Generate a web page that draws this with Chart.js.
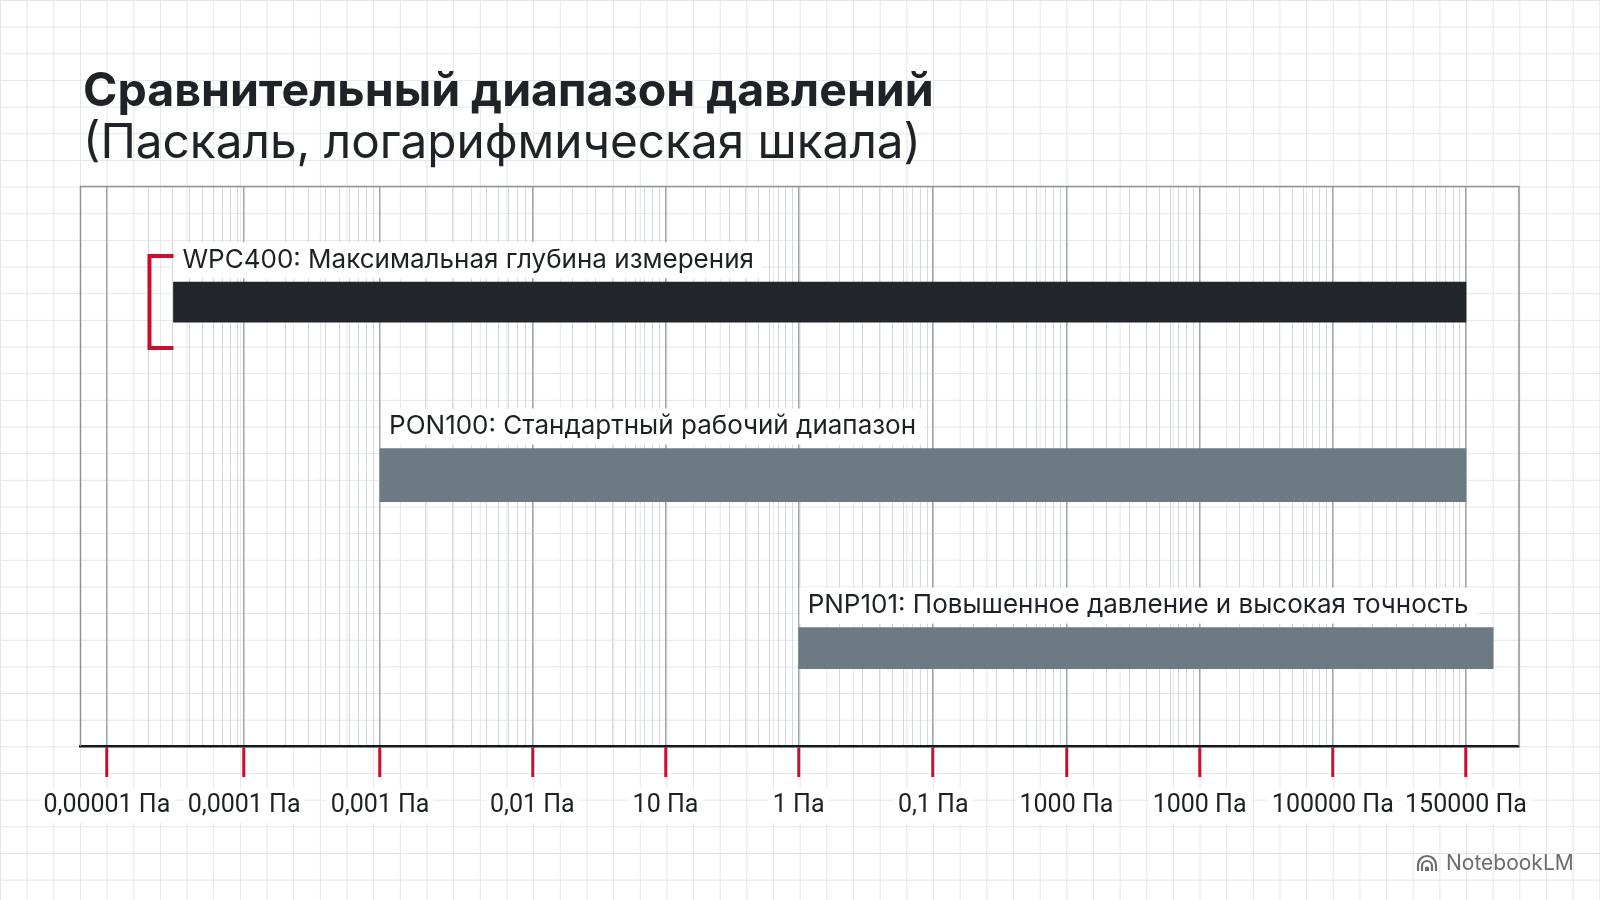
<!DOCTYPE html>
<html lang="ru">
<head>
<meta charset="utf-8">
<title>Сравнительный диапазон давлений</title>
<script src="https://cdn.jsdelivr.net/npm/chart.js@4.4.1/dist/chart.umd.min.js"></script>
<style>
  html, body { margin: 0; padding: 0; }
  body {
    width: 1600px; height: 900px; overflow: hidden; position: relative;
    background-color: #fff;
    background-image:
      linear-gradient(to right, #e4e6e9 1px, transparent 1px),
      linear-gradient(to bottom, #e4e6e9 1px, transparent 1px);
    background-size: 26.667px 26.667px;
    font-family: Inter, "Noto Sans", sans-serif;
  }
  #heading { position: absolute; left: 83px; top: 64px; color: #1f2327; }
  #heading .main { font-weight: 700; font-size: 46.5px; line-height: 50px; }
  #heading .sub { font-weight: 400; font-size: 47.7px; line-height: 54px; }
  #chart-wrap { position: absolute; left: 0; top: 0; width: 1600px; height: 900px; }
  #mark { position: absolute; left: 1416px; top: 850px; color: #6a6d70; font-size: 21px; display: flex; align-items: center; gap: 8px; }
</style>
</head>
<body>
<div id="chart-wrap"><canvas id="range-chart" width="1600" height="900"></canvas></div>
<div id="heading">
  <div class="main">Сравнительный диапазон давлений</div>
  <div class="sub">(Паскаль, логарифмическая шкала)</div>
</div>
<div id="mark">
  <svg width="22" height="18" viewBox="0 0 22 18"><g fill="none" stroke="#6a6d70" stroke-width="2.2"><path d="M2 17 V11 A9 9 0 0 1 20 11 V17"/><path d="M6 17 V12 A5 5 0 0 1 16 12 V17"/><path d="M10 17 V14 A1.5 1.5 0 0 1 12 14 V17"/></g></svg>
  <span>NotebookLM</span>
</div>
<script>
'use strict';

// ряды (сверху вниз)
const ROWS       = ['WPC400', 'PON100', 'PNP101'];
const ROW_TEXT   = [
  'WPC400: Максимальная глубина измерения',
  'PON100: Стандартный рабочий диапазон',
  'PNP101: Повышенное давление и высокая точность',
];
// границы диапазонов в единицах шкалы (позиция деления)
const RANGE_FROM = [0.49, 2.01, 5.09];
const RANGE_TO   = [10, 10, 10.2];

// деления оси X и их подписи (как на исходнике)
const TICK_POS    = [0, 1.01, 2.01, 3.13, 4.11, 5.09, 6.08, 7.06, 8.04, 9.02, 10];
const TICK_LABELS = ['0,00001 Па', '0,0001 Па', '0,001 Па', '0,01 Па', '10 Па', '1 Па',
                     '0,1 Па', '1000 Па', '1000 Па', '100000 Па', '150000 Па'];

const BAR_COLORS = ['#22262b', '#6c7a84', '#6c7a84'];
const BAR_WIDTH  = [40, 53, 41];
const RED = '#c8102e';

// промежуточные линии внутри каждой декады (лог. разметка)
function minorTicks() {
  const out = [];
  for (let i = 0; i < TICK_POS.length - 1; i++) {
    const a = TICK_POS[i], b = TICK_POS[i + 1];
    for (let k = 2; k <= 9; k++) out.push({ value: a + Math.log10(k) * (b - a) });
  }
  return out;
}

const labelPlugin = {
  id: 'rowLabels',
  beforeDatasetsDraw(chart) {
    const { ctx, chartArea: a } = chart;
    ctx.save();
    ctx.strokeStyle = '#8e9398';
    ctx.lineWidth = 1.5;
    ctx.beginPath();
    ctx.moveTo(a.left, a.bottom); ctx.lineTo(a.left, a.top);
    ctx.lineTo(a.right, a.top); ctx.lineTo(a.right, a.bottom);
    ctx.stroke();
    ctx.restore();
  },
  afterDatasetsDraw(chart) {
    const ctx = chart.ctx;
    ctx.save();
    ctx.font = '400 26px Inter, "Noto Sans", sans-serif';
    ctx.textBaseline = 'middle';
    chart.data.datasets.forEach((ds, i) => {
      const bar = chart.getDatasetMeta(i).data[0];
      if (!bar) return;
      const { y, base, height } = bar.getProps(['y', 'base', 'height'], true);
      const ty = y - height / 2 - 22;
      const w = ctx.measureText(ROW_TEXT[i]).width;
      ctx.fillStyle = '#fff';
      ctx.fillRect(base + 1, ty - 18, w + 16, 36);
      ctx.fillStyle = '#1d2125';
      ctx.fillText(ROW_TEXT[i], base + 9, ty);
      if (i === 0) {
        // красная скобка у начала самого широкого диапазона
        ctx.strokeStyle = RED;
        ctx.lineWidth = 4;
        ctx.beginPath();
        ctx.moveTo(base, y - 46);
        ctx.lineTo(base - 24, y - 46);
        ctx.lineTo(base - 24, y + 46);
        ctx.lineTo(base, y + 46);
        ctx.stroke();
      }
    });
    ctx.restore();
  },
};

const datasets = ROWS.map((name, i) => ({
  label: name,
  data: [{ x: [RANGE_FROM[i], RANGE_TO[i]], y: i + 1 }],
  backgroundColor: BAR_COLORS[i],
  borderWidth: 0,
  grouped: false,
  barPercentage: 1,
  categoryPercentage: 1,
  maxBarThickness: BAR_WIDTH[i],
}));

new Chart(document.getElementById('range-chart'), {
  type: 'bar',
  data: { datasets },
  options: {
    indexAxis: 'y',
    responsive: false,
    animation: false,
    events: [],
    layout: { padding: { top: 186.5, left: 80.5, right: 81, bottom: 74 } },
    plugins: { legend: { display: false }, tooltip: { enabled: false }, title: { display: false } },
    scales: {
      xm: {
        type: 'linear', position: 'top', min: -0.194, max: 10.39,
        afterBuildTicks: s => { s.ticks = minorTicks(); },
        afterFit: s => { s.height = 0; },
        ticks: { display: false },
        grid: { color: '#d6d9dc', lineWidth: 1, drawTicks: false },
        border: { display: false },
      },
      x: {
        type: 'linear', position: 'bottom', min: -0.194, max: 10.39,
        afterBuildTicks: s => { s.ticks = TICK_POS.map(v => ({ value: v })); },
        afterFit: s => { s.height = 80; },
        ticks: {
          autoSkip: false, maxRotation: 0, padding: 14,
          color: '#1d2125',
          font: { family: 'Roboto', size: 25 },
          callback: (v, i) => TICK_LABELS[i],
          showLabelBackdrop: true, backdropColor: '#fff', backdropPadding: { x: 4, y: 2 },
        },
        grid: { color: '#a1a6ab', lineWidth: 1.5, tickColor: RED, tickWidth: 3, tickLength: 31 },
        border: { color: '#16191c', width: 2.5 },
      },
      y: {
        type: 'linear', reverse: true, offset: false, min: 0.332, max: 3.566, display: false,
        afterBuildTicks: s => { s.ticks = ROWS.map((r, i) => ({ value: i + 1 })); },
        grid: { offset: false },
      },
    },
  },
  plugins: [labelPlugin],
});
</script>
</body>
</html>
